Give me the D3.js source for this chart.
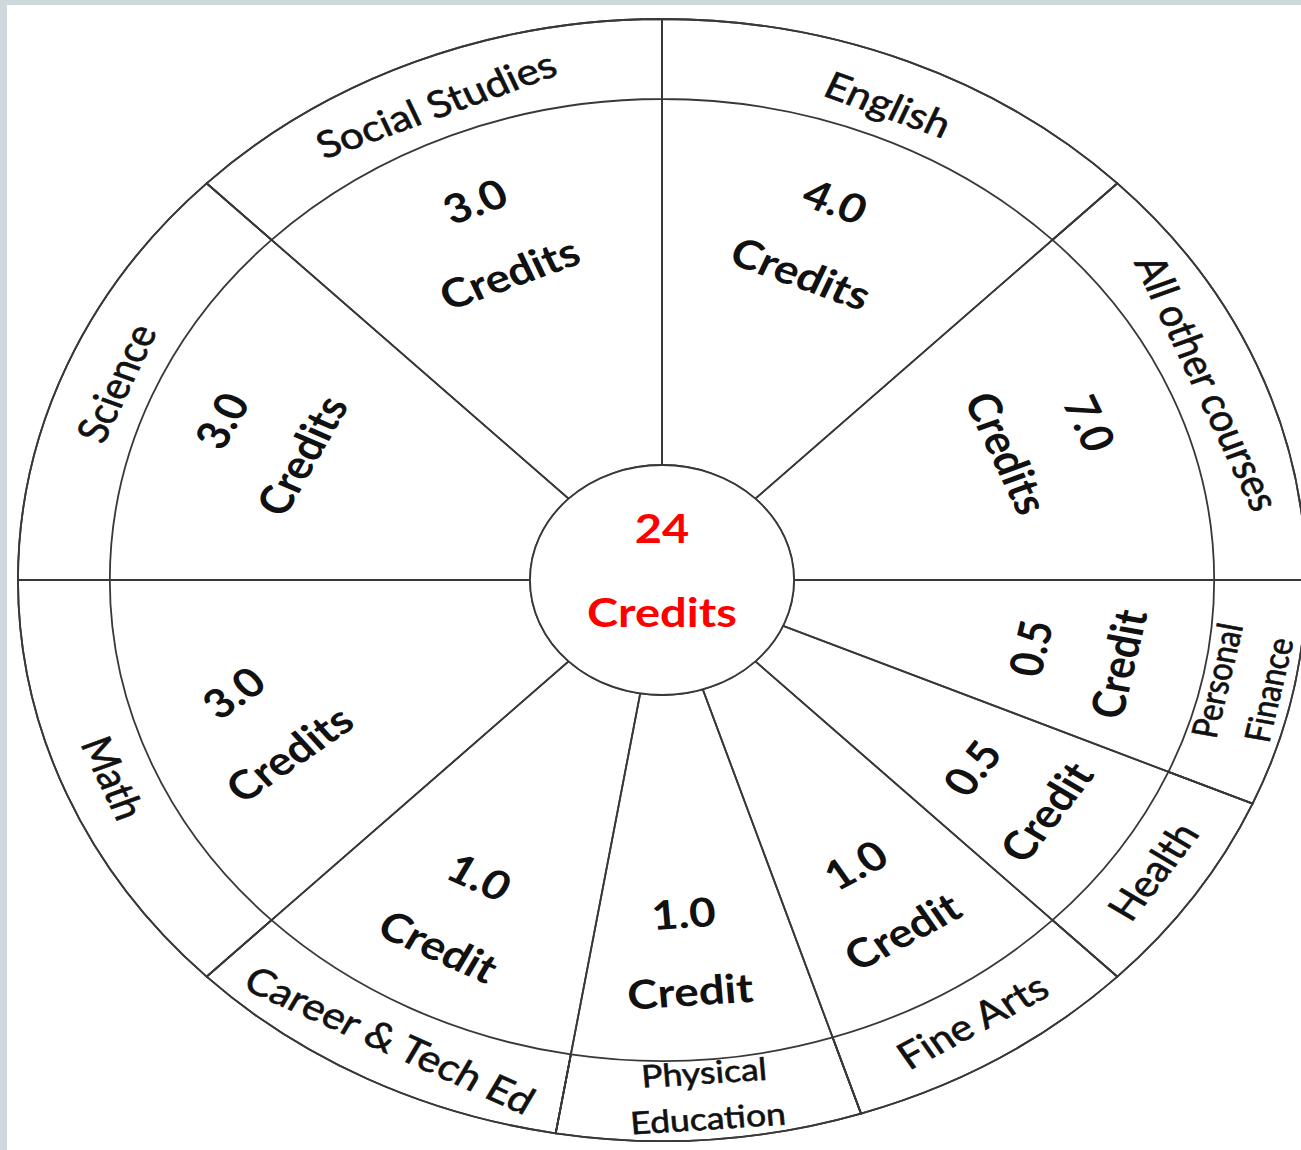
<!DOCTYPE html>
<html>
<head>
<meta charset="utf-8">
<script src="https://cdn.jsdelivr.net/npm/d3@7"></script>
<style>
  html, body { margin: 0; padding: 0; background: #cfd8dc; }
  svg { display: block; }
  text { font-family: Lato, Calibri, Carlito, sans-serif; }
</style>
</head>
<body>
<div id="wheel"></div>
<script>
// slices, clockwise from 12 o'clock
var courses = ["English", "All other courses", "Personal\nFinance", "Health", "Fine Arts",
               "Physical\nEducation", "Career & Tech Ed", "Math", "Science", "Social Studies"];
var credits = [4.0, 7.0, 0.5, 0.5, 1.0, 1.0, 1.0, 3.0, 3.0, 3.0];
// width of each slice in degrees (the wheel is not drawn to scale)
var spans = [45, 45, 23.5, 21.5, 27, 27.5, 35.5, 45, 45, 45];
// extra turn of the credit label, degrees (Math one sits crooked in the original)
var tilts = [0, 0, 0, 0, 0, 0, 0, -106, 4, 0];

var svgWidth = 1301;
var svgHeight = 1150;
var cx = 662, cy = 580;
var stretch = 1.148;   // the wheel is a bit wider than tall

var rCore = 115, rRing = 481, rOuter = 561;

var svg = d3.select("#wheel")
    .append("svg")
    .attr("width", svgWidth)
    .attr("height", svgHeight);

svg.append("rect")
    .attr("x", 7).attr("y", 5)
    .attr("width", svgWidth - 7).attr("height", svgHeight - 5)
    .attr("fill", "#fff");

var wheel = svg.append("g")
    .attr("transform", `translate(${cx},${cy}) scale(${stretch},1)`);

var rows = courses.map((c, i) => ({course: c, credit: credits[i], span: spans[i], tilt: tilts[i]}));

var pie = d3.pie().sort(null).value(d => d.span);
var slices = pie(rows);

var bigArc = d3.arc().innerRadius(rCore).outerRadius(rOuter);
var ringArc = d3.arc().innerRadius(rRing).outerRadius(rOuter);

var lineStyle = s => s
    .attr("fill", "none")
    .attr("stroke", "#383838")
    .attr("stroke-width", 1.8)
    .attr("vector-effect", "non-scaling-stroke");

wheel.selectAll("path.slice")
    .data(slices)
    .enter().append("path")
    .attr("class", "slice")
    .attr("d", bigArc)
    .call(lineStyle);

wheel.selectAll("path.ring")
    .data(slices)
    .enter().append("path")
    .attr("class", "ring")
    .attr("d", ringArc)
    .call(lineStyle);

wheel.append("circle")
    .attr("r", rCore)
    .call(lineStyle)
    .attr("fill", "#fff");

// where a label sits and how it turns: tops point outward on the upper half, inward below
function place(d, r, extra, dx) {
    var m = (d.startAngle + d.endAngle) / 2;
    var deg = m * 180 / Math.PI;
    var rot = Math.cos(m) > 0 ? (deg > 180 ? deg - 360 : deg) : deg - 180;
    return `translate(${Math.sin(m) * r + (dx || 0)},${-Math.cos(m) * r}) rotate(${rot + (extra || 0)})`;
}

function addLines(sel, lines, lh) {
    lines.forEach((t, i) => {
        sel.append("tspan")
            .attr("x", 0)
            .attr("y", (i - (lines.length - 1) / 2) * lh)
            .text(t);
    });
}

// course names in the outer band
wheel.selectAll("text.course")
    .data(slices)
    .enter().append("text")
    .attr("class", "course")
    .attr("transform", d => place(d, 516))
    .attr("text-anchor", "middle")
    .attr("dominant-baseline", "central")
    .attr("font-size", d => d.data.course.includes("\n") ? 31 : 37)
    .attr("fill", "#111")
    .attr("stroke", "#111")
    .attr("stroke-width", 0.6)
    .each(function(d) { addLines(d3.select(this), d.data.course.split("\n"), 46); });

// credit count in each slice
wheel.selectAll("text.credit")
    .data(slices)
    .enter().append("text")
    .attr("class", "credit")
    .attr("transform", d => place(d, 372, d.data.tilt, -6))
    .attr("text-anchor", "middle")
    .attr("dominant-baseline", "central")
    .attr("font-size", 40)
    .attr("font-weight", 700)
    .attr("fill", "#111")
    .each(function(d) {
        var v = d.data.credit;
        addLines(d3.select(this), [v.toFixed(1), v > 1 ? "Credits" : "Credit"], 78);
    });

// total in the hub
wheel.append("text")
    .attr("transform", "translate(0,-12)")
    .attr("text-anchor", "middle")
    .attr("dominant-baseline", "central")
    .attr("font-size", 41)
    .attr("font-weight", 700)
    .attr("fill", "#ff0000")
    .call(s => addLines(s, [String(d3.sum(credits)), "Credits"], 84));
</script>
</body>
</html>
